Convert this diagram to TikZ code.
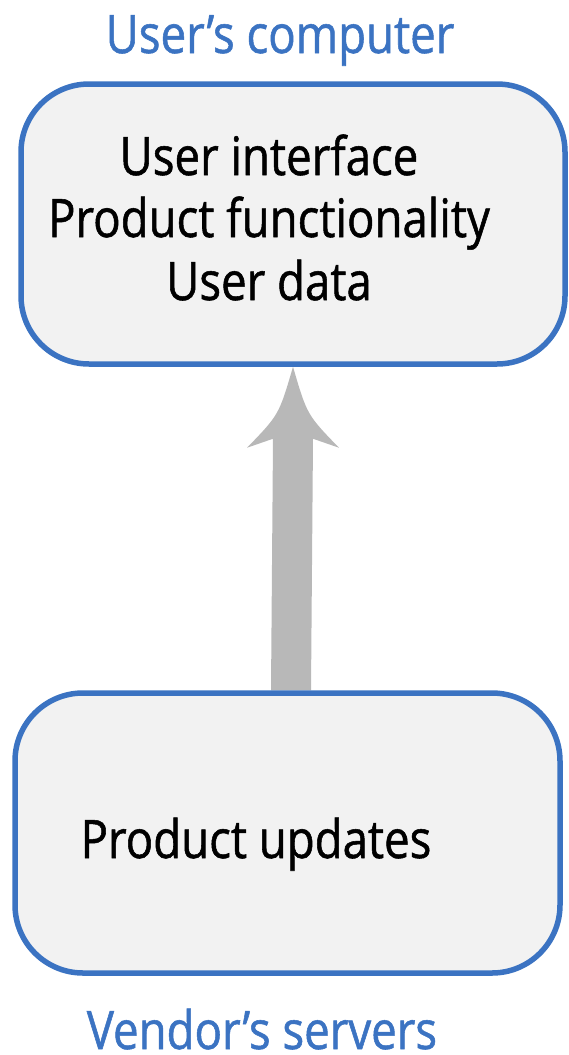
\documentclass[tikz,border=0pt]{standalone}
\usepackage{fontspec}
\setmainfont[FakeStretch=0.86,FakeBold=1]{Open Sans}
\usetikzlibrary{calc,backgrounds}
\definecolor{boxblue}{HTML}{3B73C2}
\definecolor{boxfill}{HTML}{F2F2F2}
\definecolor{arrowgray}{HTML}{B8B8B8}
\tikzset{
  box/.style={draw=boxblue, line width=5.5pt, fill=boxfill, rounded corners=68pt, inner sep=0pt},
  body/.style={anchor=base, inner sep=0pt, font=\fontsize{53}{62}\selectfont},
  title/.style={anchor=base, inner sep=0pt, text=boxblue, font=\fontsize{53}{60}\selectfont},
}
\begin{document}
\begin{tikzpicture}[x=1pt,y=-1pt]
\useasboundingbox (0,0) rectangle (568,1055);
\node[box, minimum width=544pt, minimum height=280pt] (top) at (293,224) {};
\node[box, minimum width=545pt, minimum height=280pt] (bot) at (287.5,833) {};
\node[title] (ttitle) at (280,53) {User’s computer};
\node[title] (btitle) at (262,1049) {Vendor’s servers};
\node[body] (l1) at (269,175) {User interface};
\node[body] (l2) at (269,237) {Product functionality};
\node[body] (l3) at (269,300) {User data};
\node[body] (pu) at (256,858) {Product updates};
\coordinate (tip) at (top.south);
\coordinate (base) at (bot.north);
\begin{scope}[on background layer]
\fill[arrowgray] (tip)
  .. controls ($(tip)+(14,48)$) .. ($(tip)+(46,81)$)
  -- ($(tip)+(20,72)$)
  -- ($(base)+(23.5,0)$)
  -- ($(base)+(-16.5,0)$)
  -- ($(tip)+(-20,72)$)
  -- ($(tip)+(-46,81)$)
  .. controls ($(tip)+(-14,48)$) .. (tip) -- cycle;
\end{scope}
\end{tikzpicture}
\end{document}
